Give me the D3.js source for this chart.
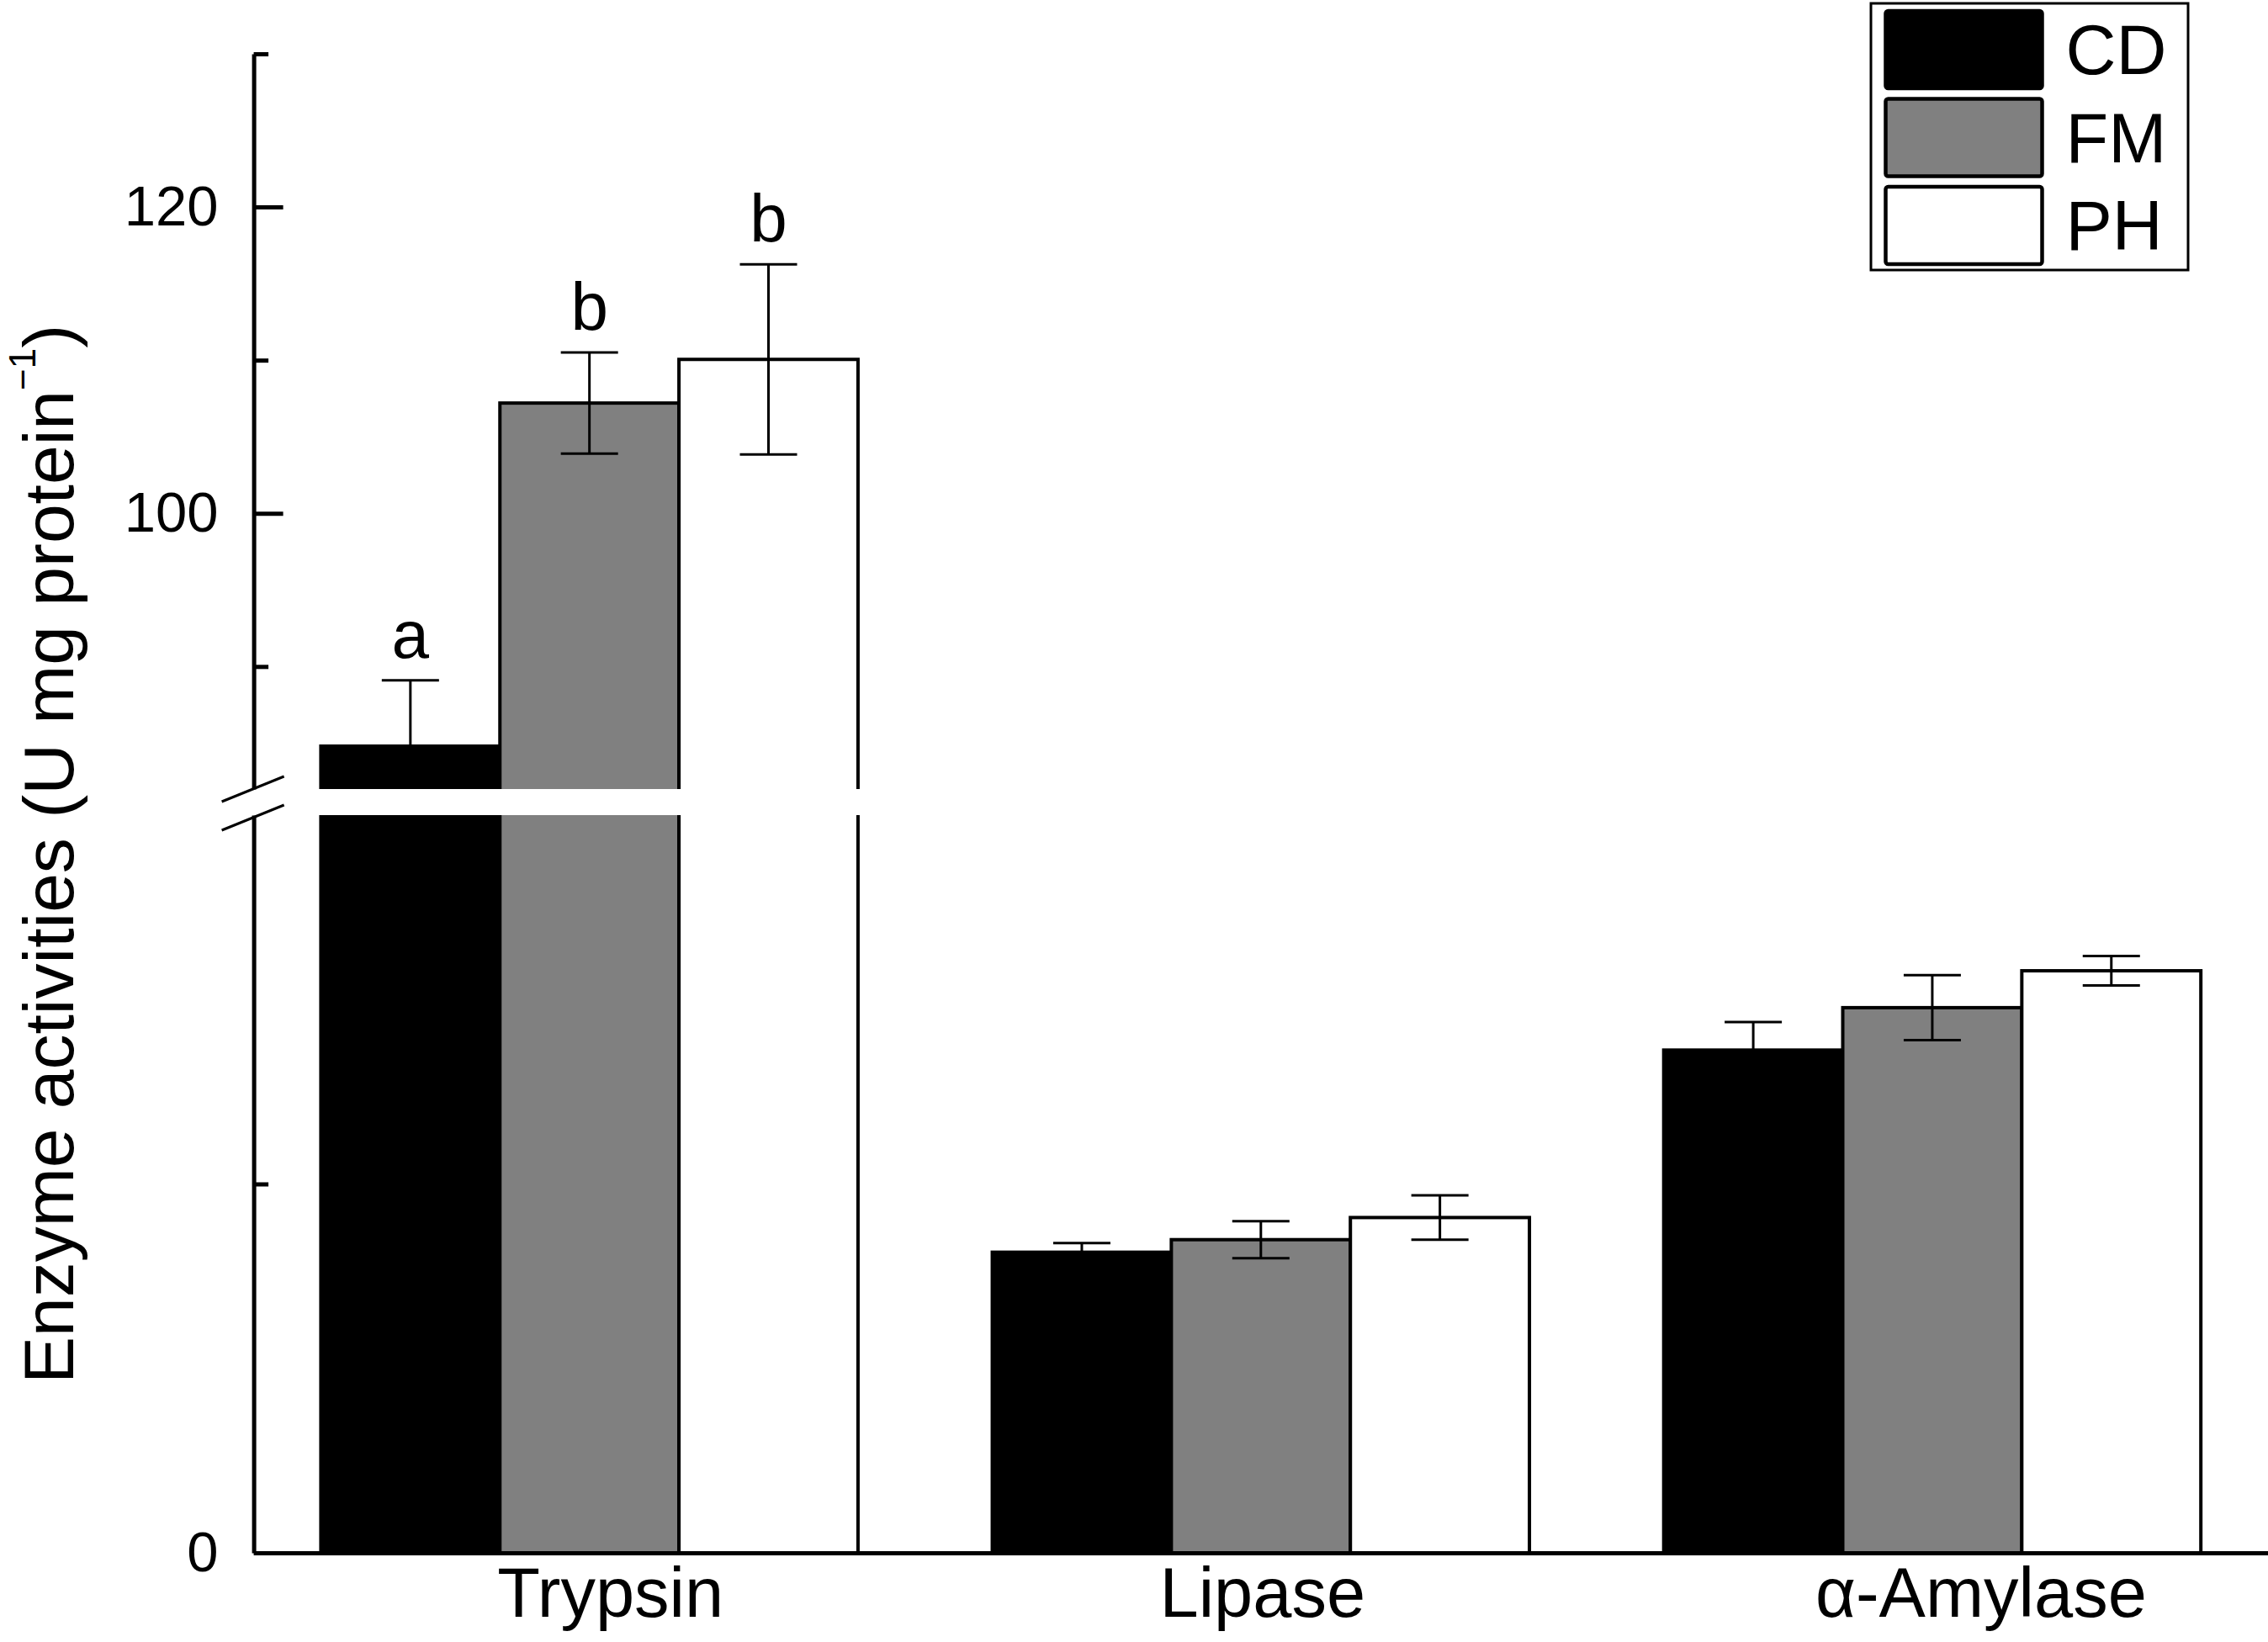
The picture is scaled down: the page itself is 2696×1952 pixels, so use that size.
<!DOCTYPE html>
<meta charset="utf-8">
<style>
body { margin: 0; background: #fff; }
svg { display: block; font-family: "Liberation Sans", Arial, sans-serif; }
.axis path, .axis line { stroke: #000; stroke-width: 5; fill: none; }
.axis text { fill: #000; }
</style>
<svg width="2696" height="1952"></svg>
<script src="https://d3js.org/d3.v7.min.js"></script>
<script>

// values
var categories = ["Trypsin", "Lipase", "α-Amylase"];
var diets = ["CD", "FM", "PH"];
var cdMean = [84.8, 8.15, 13.63],
    cdErr  = [4.3, 0.25, 0.76];
var fmMean = [107.2, 8.49, 14.78],
    fmErr  = [3.3, 0.5, 0.88];
var phMean = [110.05, 9.09, 15.78],
    phErr  = [6.2, 0.6, 0.4];
var trypsinLetters = ["a", "b", "b"];
var lowMajorTicks = [0], lowMinorTicks = [10];
var highMajorTicks = [100, 120], highMinorTicks = [90, 110, 130];
var yTitle = "Enzyme activities (U mg protein";

var fills = { CD: "#000", FM: "#808080", PH: "#fff" };
var labelNudge = { "Trypsin": 25, "Lipase": 2, "α-Amylase": 58 };

var svg = d3.select("svg");
svg.append("rect").attr("width", 2696).attr("height", 1952).attr("fill", "#fff");

var axisX = 301.6, gapTop = 938, gapBottom = 969;

// broken y axis: 0-20 below the break, 82-130 above
var yLow = d3.scaleLinear().domain([0, 20]).range([1846, gapBottom]);
var yHigh = d3.scaleLinear().domain([82, 130]).range([gapTop, 64]);
function y(v) { return v <= 20 ? yLow(v) : yHigh(v); }

var x0 = d3.scaleBand().domain(categories).range([axisX, 2696])
  .paddingInner(0.2).paddingOuter(0.1);
var x1 = d3.scaleBand().domain(diets).range([0, x0.bandwidth()]);

var means = { CD: cdMean, FM: fmMean, PH: phMean },
    errs  = { CD: cdErr, FM: fmErr, PH: phErr };

var rows = [];
categories.forEach(function(c, i) {
  diets.forEach(function(d, j) {
    rows.push({ cat: c, diet: d, i: i, j: j, v: means[d][i], e: errs[d][i] });
  });
});

// bars
svg.append("g").selectAll("rect").data(rows).enter().append("rect")
  .attr("x", function(d) { return x0(d.cat) + x1(d.diet); })
  .attr("width", x1.bandwidth())
  .attr("y", function(d) { return y(d.v); })
  .attr("height", function(d) { return y(0) - y(d.v); })
  .attr("fill", function(d) { return fills[d.diet]; })
  .attr("stroke", "#000").attr("stroke-width", 4);

// error bars
var cap = 34;
var eb = svg.append("g").attr("stroke", "#000").attr("stroke-width", 3)
  .selectAll("g").data(rows).enter().append("g")
  .attr("transform", function(d) { return "translate(" + (x0(d.cat) + x1(d.diet) + x1.bandwidth() / 2) + ",0)"; });
eb.append("line").attr("y1", function(d) { return y(d.v - d.e); }).attr("y2", function(d) { return y(d.v + d.e); });
eb.append("line").attr("x1", -cap).attr("x2", cap)
  .attr("y1", function(d) { return y(d.v + d.e); }).attr("y2", function(d) { return y(d.v + d.e); });
eb.append("line").attr("x1", -cap).attr("x2", cap)
  .attr("y1", function(d) { return y(d.v - d.e); }).attr("y2", function(d) { return y(d.v - d.e); });

// white band of the axis break
svg.append("rect").attr("x", 250).attr("y", gapTop).attr("width", 900).attr("height", gapBottom - gapTop)
  .attr("fill", "#fff");

// significance letters over trypsin
svg.append("g").selectAll("text").data(rows.filter(function(d) { return d.i === 0; })).enter().append("text")
  .attr("x", function(d) { return x0(d.cat) + x1(d.diet) + x1.bandwidth() / 2; })
  .attr("y", function(d) { return y(d.v + d.e) - 27; })
  .attr("text-anchor", "middle").attr("font-size", 80)
  .text(function(d) { return trypsinLetters[d.j]; });

// y axis, two pieces
function yAxisPart(scale, major, minor) {
  var g = svg.append("g").attr("class", "axis").attr("transform", "translate(" + axisX + ",0)");
  g.call(d3.axisLeft(scale).tickValues(major).tickSizeInner(-35).tickSizeOuter(0).tickPadding(42))
    .selectAll("text").attr("font-size", 67).attr("font-family", "Liberation Sans, Arial, sans-serif");
  var m = svg.append("g").attr("class", "axis").attr("transform", "translate(" + axisX + ",0)");
  m.call(d3.axisLeft(scale).tickValues(minor).tickSizeInner(-17.5).tickSizeOuter(0).tickFormat(""));
  m.select(".domain").remove();
}
yAxisPart(yLow, lowMajorTicks, lowMinorTicks);
yAxisPart(yHigh, highMajorTicks, highMinorTicks);

// break marks
svg.append("g").attr("stroke", "#000").attr("stroke-width", 3)
  .selectAll("line").data([gapTop, gapBottom + 3]).enter().append("line")
  .attr("x1", axisX - 38).attr("x2", axisX + 36)
  .attr("y1", function(d) { return d + 15; }).attr("y2", function(d) { return d - 15; });

// x axis
var xg = svg.append("g").attr("class", "axis").attr("transform", "translate(0," + yLow(0) + ")")
  .call(d3.axisBottom(x0).tickSize(0).tickSizeOuter(0).tickPadding(17));
xg.selectAll("text").attr("font-size", 83).attr("font-family", "Liberation Sans, Arial, sans-serif")
  .attr("dx", function(d) { return labelNudge[d]; });

// y title
var t = svg.append("text").attr("transform", "translate(87,1645) rotate(-90)").attr("font-size", 84);
t.append("tspan").text(yTitle);
t.append("tspan").attr("font-size", 44).attr("dy", -45).text("−1");
t.append("tspan").attr("dy", 45).text(")");

// legend
var lg = svg.append("g");
lg.append("rect").attr("x", 2224).attr("y", 4).attr("width", 377).attr("height", 317)
  .attr("fill", "#fff").attr("stroke", "#000").attr("stroke-width", 3);
var li = lg.selectAll("g").data(diets).enter().append("g")
  .attr("transform", function(d, i) { return "translate(2241.5," + (13 + i * 104.5) + ")"; });
li.append("rect").attr("width", 186).attr("height", 92).attr("rx", 3)
  .attr("fill", function(d) { return fills[d]; }).attr("stroke", "#000").attr("stroke-width", 4.5);
li.append("text").attr("x", 214).attr("y", 75).attr("font-size", 83).text(function(d) { return d; });

</script>
